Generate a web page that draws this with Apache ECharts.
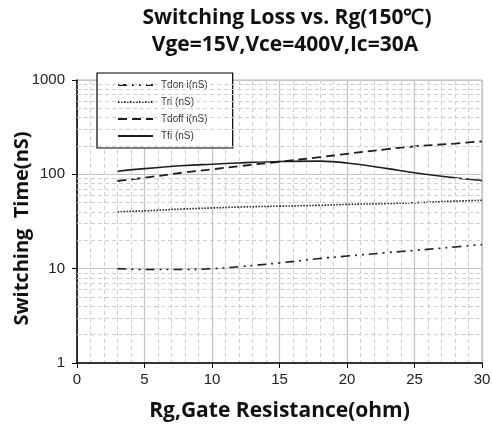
<!DOCTYPE html>
<html><head><meta charset="utf-8">
<script src="https://cdn.jsdelivr.net/npm/echarts@6/dist/echarts.min.js"></script>
<style>html,body{margin:0;padding:0;background:#fff}#c{width:492px;height:432px}</style>
</head><body><div id="c"></div>
<script>
const rg = [3, 5, 8, 10, 12, 15, 18, 20, 23, 25, 28, 30];
const tdon = [10, 9.8, 9.8, 10, 10.5, 11.5, 12.8, 13.6, 14.8, 15.6, 17, 18];
const tri = [40, 41, 43, 44, 45, 46, 47, 48, 49, 50, 52, 53];
const tdoff = [85, 92, 105, 113, 122, 136, 152, 165, 185, 198, 212, 224];
const tfi = [108, 115, 124, 128, 132, 137, 138, 132, 115, 104, 92, 86];
const seriesNames = ['Tdon i(nS)', 'Tri (nS)', 'Tdoff i(nS)', 'Tfi (nS)'];
const yMinorValues = [2,3,4,5,6,7,8,9,20,30,40,50,60,70,80,90,200,300,400,500,600,700,800,900];
const xMin = 0, xMax = 30, xInterval = 5;
const yMin = 1, yMax = 1000;

const pair = (ys) => rg.map((x, i) => [x, ys[i]]);
const lineCol = '#1e1e1e';
const boldFont = { fontFamily: 'Open Sans', fontWeight: 'bold', fontSize: 21, color: '#111' };
const chart = echarts.init(document.getElementById('c'));
chart.setOption({
  animation: false,
  backgroundColor: '#fff',
  title: [
    { text: 'Switching Loss vs. Rg(150℃)', left: 282, top: 3, textAlign: 'center', textStyle: boldFont },
    { text: 'Vge=15V,Vce=400V,Ic=30A', left: 280, top: 30, textAlign: 'center', textStyle: boldFont }
  ],
  legend: {
    orient: 'vertical', left: 97, top: 73,
    padding: [7, 25, 7, 20], itemGap: 7, itemWidth: 35, itemHeight: 11,
    backgroundColor: '#fff', borderColor: '#000', borderWidth: 1.2,
    itemStyle: { opacity: 0 },
    textStyle: { fontFamily: 'Liberation Sans', fontSize: 10, color: '#333', padding: [0, 0, 0, 3] },
    data: seriesNames
  },
  grid: { left: 77, right: 10, top: 80, bottom: 69, outerBoundsMode: 'none', containLabel: false,
    show: true, borderColor: '#b8b8b8', borderWidth: 1 },
  xAxis: {
    type: 'value', min: xMin, max: xMax, interval: xInterval,
    name: 'Rg,Gate Resistance(ohm)', nameLocation: 'middle', nameGap: 38,
    nameTextStyle: boldFont,
    axisLine: { lineStyle: { color: '#000', width: 1.5 } },
    axisTick: { show: true, length: 5, lineStyle: { color: '#000' } },
    axisLabel: { margin: 9, fontFamily: 'Liberation Sans', fontSize: 15, color: '#222' },
    splitLine: { show: true, lineStyle: { color: '#c4c4c4', width: 1.2 } },
    minorTick: { show: false, splitNumber: 5 },
    minorSplitLine: { show: true, lineStyle: { color: '#cfcfcf', type: [4, 3], width: 1 } }
  },
  yAxis: {
    type: 'log', logBase: 10, min: yMin, max: yMax,
    name: 'Switching  Time(nS)', nameLocation: 'middle', nameGap: 45, nameMoveOverlap: false,
    nameTextStyle: Object.assign({}, boldFont, { fontSize: 20, padding: [0, 14, 0, 0] }),
    axisLine: { show: true, lineStyle: { color: '#000', width: 1.5 } },
    axisTick: { show: true, length: 5, lineStyle: { color: '#000' } },
    axisLabel: { margin: 12, fontFamily: 'Liberation Sans', fontSize: 15, color: '#222',
      formatter: v => String(Math.round(v)) },
    splitLine: { show: true, lineStyle: { color: '#c4c4c4', width: 1.2 } }
  },
  series: [
    { name: '_grid', type: 'line', data: [], silent: true,
      markLine: { silent: true, symbol: 'none', label: { show: false },
        lineStyle: { color: '#cfcfcf', type: [4, 3], width: 1 },
        data: yMinorValues.map(v => ({ yAxis: v })) } },
    { name: seriesNames[0], type: 'line', smooth: 0.4, symbol: 'none', data: pair(tdon),
      lineStyle: { color: lineCol, width: 1.6, type: [9, 5, 2, 5, 2, 5] }, itemStyle: { color: lineCol } },
    { name: seriesNames[1], type: 'line', smooth: 0.4, symbol: 'none', data: pair(tri),
      lineStyle: { color: lineCol, width: 1.6, type: [1.5, 1.5] }, itemStyle: { color: lineCol } },
    { name: seriesNames[2], type: 'line', smooth: 0.4, symbol: 'none', data: pair(tdoff),
      lineStyle: { color: lineCol, width: 1.8, type: [9, 5] }, itemStyle: { color: lineCol } },
    { name: seriesNames[3], type: 'line', smooth: 0.4, symbol: 'none', data: pair(tfi),
      lineStyle: { color: lineCol, width: 1.6, type: 'solid' }, itemStyle: { color: lineCol } }
  ]
});
</script></body></html>
